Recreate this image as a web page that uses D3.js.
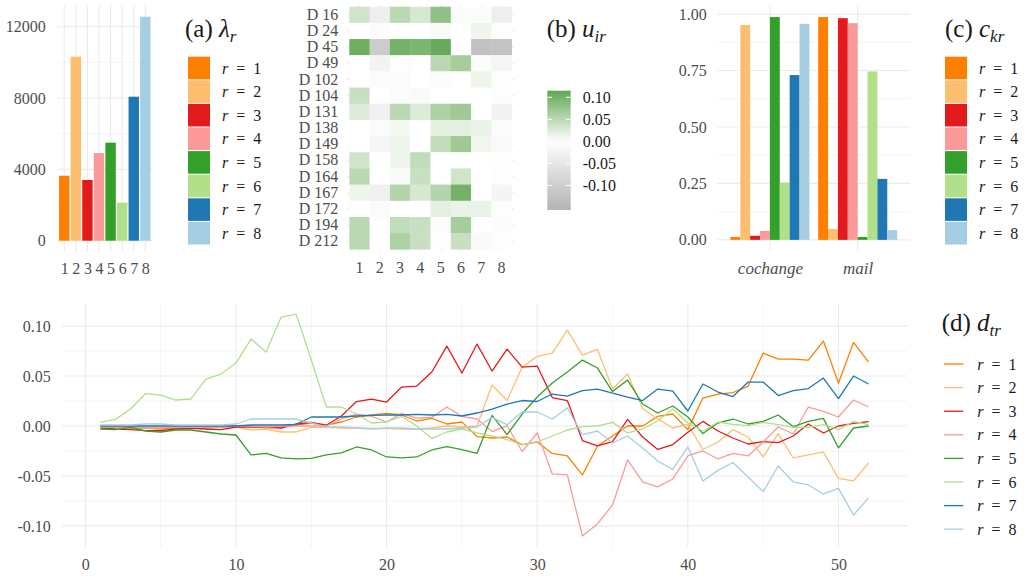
<!DOCTYPE html>
<html><head><meta charset="utf-8">
<script src="https://cdn.jsdelivr.net/npm/d3@7"></script>
<style>body{margin:0;background:#fff} text{font-family:"Liberation Serif","Times New Roman",serif}</style>
</head><body><svg id="c" width="1026" height="577" xmlns="http://www.w3.org/2000/svg"></svg>
<script>
// ---------- data ----------
const ranks = [1,2,3,4,5,6,7,8];
const colors = ["#ff7f00","#fdbf6f","#e31a1c","#fb9a99","#33a02c","#b2df8a","#1f78b4","#a6cee3"];
const lambda = [3645,10318,3404,4918,5496,2131,8075,12561];
const lambdaTicks = [0,4000,8000,12000];
const heatRows = ["D 16","D 24","D 45","D 49","D 102","D 104","D 131","D 138","D 149","D 158","D 164","D 167","D 172","D 194","D 212"];
const heatVals = [
  [0.035,-0.035,0.050,0.030,0.080,0.003,0.003,-0.035],
  [0.000,-0.006,0.000,0.000,0.005,0.000,0.012,-0.004],
  [0.105,-0.105,0.100,0.095,0.110,0.000,-0.128,-0.124],
  [0.000,-0.025,-0.004,0.000,0.050,0.065,0.003,-0.018],
  [0.000,-0.006,0.003,0.000,0.003,0.000,0.012,-0.004],
  [0.040,0.000,0.003,0.005,0.000,0.000,0.000,-0.004],
  [0.025,-0.030,0.050,0.025,0.060,0.070,0.000,-0.025],
  [0.000,-0.007,0.008,0.000,0.020,0.020,0.015,-0.006],
  [0.000,-0.018,0.012,0.000,0.045,0.070,0.010,-0.012],
  [0.035,-0.003,0.012,0.045,0.000,0.000,0.000,-0.003],
  [0.050,0.000,0.005,0.040,0.000,0.035,0.000,-0.004],
  [0.012,-0.030,0.055,0.030,0.055,0.100,0.000,-0.020],
  [-0.003,-0.008,0.000,0.000,0.020,0.015,0.015,-0.004],
  [0.050,0.000,0.045,0.040,-0.006,0.065,-0.003,-0.006],
  [0.050,0.000,0.060,0.040,-0.003,0.040,0.005,-0.004]
];
const heatLegendTicks = [0.10,0.05,0.00,-0.05,-0.10];
const channels = ["cochange","mail"];
const cochange = [0.013,0.952,0.018,0.040,0.987,0.254,0.730,0.957];
const mail     = [0.987,0.048,0.982,0.960,0.013,0.746,0.270,0.043];
const shareTicks = [0,0.25,0.5,0.75,1];
const weeks = d3.range(1,53);
const d1 = [-0.001,-0.001,-0.002,-0.002,-0.003,-0.002,-0.002,-0.002,-0.001,0.000,0.000,-0.002,-0.001,
  0.001,0.003,0.001,0.004,0.009,0.011,0.0126,0.011,0.005,0.0076,0.002,0.004,-0.0106,-0.012,-0.011,-0.0186,
  -0.016,-0.0275,-0.030,-0.049,-0.020,-0.010,0.000,0.000,0.0096,0.012,-0.0036,0.028,
  0.032,0.0335,0.040,0.073,0.067,0.067,0.066,0.085,0.043,0.0836,0.064];
const d2 = [0.000,0.000,0.000,-0.001,-0.001,-0.001,-0.001,-0.001,-0.001,-0.001,-0.004,-0.003,-0.006,
  -0.006,-0.0013,-0.0013,-0.002,-0.002,-0.0023,-0.0027,-0.003,-0.003,-0.002,0.000,-0.001,0.000,0.041,0.0255,0.059,
  0.0697,0.073,0.096,0.071,0.0766,0.037,0.052,0.0176,0.007,-0.002,0.0017,-0.0235,
  -0.016,-0.0036,-0.011,-0.031,-0.0076,-0.032,-0.029,-0.026,-0.0524,-0.055,-0.037];
const d3v = [-0.002,-0.003,-0.0036,-0.0046,-0.0046,-0.003,-0.0023,-0.003,-0.0036,-0.001,-0.001,-0.001,-0.002,
  0.002,0.0036,0.0007,0.010,0.0245,0.027,0.024,0.039,0.040,0.054,0.080,0.053,0.082,0.055,0.077,0.059,
  0.060,0.0285,0.0255,-0.0146,-0.020,-0.0156,0.0066,-0.011,-0.0235,-0.0186,-0.0063,0.0046,
  -0.005,-0.012,-0.018,-0.0156,-0.0166,-0.010,0.002,-0.007,0.000,0.0027,0.0043];
const d4 = [-0.001,-0.001,-0.001,-0.002,-0.002,-0.001,-0.001,-0.001,-0.001,0.000,0.000,-0.001,0.000,
  0.000,0.000,0.000,0.007,0.012,0.0096,0.004,0.0126,0.008,0.0086,0.019,0.0096,0.007,-0.0056,0.0003,-0.0255,
  -0.007,-0.048,-0.049,-0.110,-0.098,-0.079,-0.034,-0.056,-0.061,-0.053,-0.030,-0.025,
  -0.033,-0.0275,-0.030,-0.016,-0.001,-0.008,0.019,0.0146,0.009,0.026,0.019];
const d5 = [-0.003,-0.0036,-0.0013,-0.005,-0.006,-0.004,-0.004,-0.006,-0.008,-0.009,-0.029,-0.0275,-0.032,
  -0.033,-0.0325,-0.029,-0.027,-0.021,-0.024,-0.031,-0.032,-0.031,-0.024,-0.0206,-0.0236,-0.0275,0.0106,-0.0086,0.012,
  0.029,0.043,0.054,0.066,0.058,0.0345,0.046,0.022,0.013,0.020,0.009,-0.0076,
  0.003,0.007,0.002,0.0046,0.011,-0.0007,0.0046,0.0076,-0.022,-0.002,0.000];
const d6 = [0.0036,0.0066,0.017,0.0325,0.031,0.026,0.027,0.047,0.052,0.063,0.087,0.074,0.109,
  0.112,0.066,0.019,0.019,0.012,0.003,0.004,0.0096,0.000,-0.0126,-0.006,-0.003,-0.007,-0.010,-0.0136,-0.019,
  -0.016,-0.010,-0.004,-0.0007,0.000,0.0036,-0.007,-0.003,0.005,0.017,0.003,-0.005,
  0.004,0.0017,0.0003,0.0036,0.0013,-0.0013,-0.0013,0.0013,-0.0036,0.0046,0.0013];
const d7 = [0.000,0.000,0.000,0.000,0.000,0.000,0.000,0.000,0.000,0.000,0.001,0.001,0.001,
  0.0017,0.009,0.009,0.009,0.010,0.0106,0.011,0.011,0.0116,0.011,0.0116,0.010,0.013,0.017,0.022,0.0255,
  0.0245,0.032,0.030,0.0355,0.037,0.033,0.029,0.0255,0.037,0.035,0.015,0.042,
  0.034,0.0295,0.044,0.044,0.0305,0.0355,0.0375,0.048,0.0275,0.050,0.042];
const d8 = [0.001,0.001,0.001,0.002,0.002,0.001,0.001,0.001,0.001,0.002,0.007,0.007,0.007,
  0.007,0.003,-0.001,-0.001,-0.002,-0.003,-0.002,-0.002,-0.003,-0.003,-0.003,-0.002,-0.001,0.0086,0.0013,0.014,
  0.014,0.007,0.018,-0.0086,-0.005,-0.017,-0.010,-0.022,-0.035,-0.0435,-0.021,-0.055,
  -0.0444,-0.0365,-0.051,-0.0657,-0.040,-0.056,-0.059,-0.068,-0.0624,-0.089,-0.072];
const dTicksX = [0,10,20,30,40,50];
const dTicksY = [-0.10,-0.05,0,0.05,0.10];

// ---------- helpers ----------
const svg = d3.select("#c");
svg.append("rect").attr("width",1026).attr("height",577).attr("fill","#fff");
const GRID = "#ebebeb", TICK = "#4d4d4d", FS = 16;
const fmt2 = v => (v<0?"-":"") + d3.format(".2f")(Math.abs(v));

function hGrid(g, y, vals, x0, x1, w){
  g.selectAll(null).data(vals).join("line")
   .attr("x1",x0).attr("x2",x1).attr("y1",d=>y(d)).attr("y2",d=>y(d))
   .attr("stroke",GRID).attr("stroke-width",w);
}
function vGrid(g, xf, vals, y0, y1, w){
  g.selectAll(null).data(vals).join("line")
   .attr("y1",y0).attr("y2",y1).attr("x1",d=>xf(d)).attr("x2",d=>xf(d))
   .attr("stroke",GRID).attr("stroke-width",w);
}
function styleAxis(g){
  g.attr("font-family",null).attr("font-size",null);
  g.select(".domain").remove();
  g.selectAll(".tick line").remove();
  g.selectAll("text").attr("fill",TICK).attr("font-size",FS);
}
function title(x, y, prefix, sym, sub){
  const t = svg.append("text").attr("x",x).attr("y",y).attr("font-size",25).attr("fill","#1a1a1a");
  t.append("tspan").text(prefix+" ");
  t.append("tspan").attr("font-style","italic").text(sym);
  t.append("tspan").attr("font-style","italic").attr("font-size",17).attr("dy",5).text(sub);
}
function keyLabel(x, y, r){
  const t = svg.append("text").attr("x",x).attr("y",y).attr("dy","0.35em").attr("font-size",FS).attr("fill","#1a1a1a");
  t.append("tspan").attr("font-style","italic").text("r");
  t.append("tspan").text("\u2002=\u2002"+r);
}
function rectKeys(x, y0, step){
  ranks.forEach((r,i)=>{
    svg.append("rect").attr("x",x).attr("y",y0+i*step).attr("width",22).attr("height",step-1)
      .attr("fill",colors[i]);
    keyLabel(x+34, y0+i*step+step/2-0.5, r);
  });
}

// ---------- panel (a) ----------
{
  const g = svg.append("g");
  const x = d3.scalePoint().domain(ranks).range([57.3,152.3]).padding(0.6);
  const ext = [0, d3.max(lambda)], pad = (ext[1]-ext[0])*0.05;
  const y = d3.scaleLinear().domain([ext[0]-pad, ext[1]+pad]).range([251.9,5.5]);
  hGrid(g, y, [2000,6000,10000], 57.3, 152.3, 0.55);
  hGrid(g, y, lambdaTicks, 57.3, 152.3, 1.1);
  vGrid(g, x, ranks, 5.5, 251.9, 1.1);
  const bw = x.step()*0.9;
  g.selectAll(null).data(ranks).join("rect")
    .attr("x",d=>x(d)-bw/2).attr("width",bw)
    .attr("y",(d,i)=>y(lambda[i])).attr("height",(d,i)=>y(0)-y(lambda[i]))
    .attr("fill",(d,i)=>colors[i]);
  const ay = g.append("g").attr("transform","translate(57.3,0)")
    .call(d3.axisLeft(y).tickValues(lambdaTicks).tickFormat(d3.format("d")).tickSize(0).tickPadding(11.6));
  styleAxis(ay);
  const ax = g.append("g").attr("transform","translate(0,251.9)")
    .call(d3.axisBottom(x).tickSize(0).tickPadding(11));
  styleAxis(ax);
  title(185, 37, "(a)", "\u03bb", "r");
  rectKeys(188, 56.7, 23.6);
}

// ---------- panel (b) ----------
{
  const g = svg.append("g");
  const x = d3.scaleBand().domain(ranks).range([349.3,511.7]);
  const y = d3.scaleBand().domain(heatRows).range([6.7,249.3]);
  const px0 = 349.3 - x.step()*0.1, px1 = 511.7 + x.step()*0.1;
  const py0 = 6.7 - y.step()*0.1, py1 = 249.3 + y.step()*0.1;
  hGrid(g, d=>y(d)+y.bandwidth()/2, heatRows, px0, px1, 1.1);
  vGrid(g, d=>x(d)+x.bandwidth()/2, ranks, py0, py1, 1.1);
  const col = d3.scaleLinear().domain([-0.156,0,0.115]).range(["#b4b4b4","#ffffff","#5fa653"]).interpolate(d3.interpolateLab);
  heatRows.forEach((row,ri)=>{
    g.selectAll(null).data(heatVals[ri]).join("rect")
      .attr("x",(d,ci)=>x(ranks[ci])).attr("y",y(row))
      .attr("width",x.bandwidth()+0.3).attr("height",y.bandwidth()+0.3)
      .attr("fill",d=>col(d));
  });
  const ay = g.append("g").attr("transform",`translate(${px0},0)`)
    .call(d3.axisLeft(y).tickSize(0).tickPadding(9));
  styleAxis(ay);
  const ax = g.append("g").attr("transform",`translate(0,${py1})`)
    .call(d3.axisBottom(x).tickSize(0).tickPadding(11));
  styleAxis(ax);
  title(546.7, 37, "(b)", "u", "ir");
  // colourbar
  const ly = d3.scaleLinear().domain([-0.156,0.115]).range([210,90.7]);
  const defs = svg.append("defs");
  const lg = defs.append("linearGradient").attr("id","cb").attr("x1",0).attr("x2",0).attr("y1",1).attr("y2",0);
  d3.range(0,1.0001,0.05).forEach(t=>{
    lg.append("stop").attr("offset",t).attr("stop-color",col(-0.156+t*(0.271)));
  });
  svg.append("rect").attr("x",547.3).attr("y",90.7).attr("width",23.4).attr("height",119.3).attr("fill","url(#cb)");
  heatLegendTicks.forEach(v=>{
    svg.append("line").attr("x1",547.3).attr("x2",552).attr("y1",ly(v)).attr("y2",ly(v)).attr("stroke","#fff").attr("stroke-width",1);
    svg.append("line").attr("x1",566).attr("x2",570.7).attr("y1",ly(v)).attr("y2",ly(v)).attr("stroke","#fff").attr("stroke-width",1);
  });
  const la = svg.append("g").attr("transform","translate(570.7,0)")
    .call(d3.axisRight(ly).tickValues(heatLegendTicks).tickFormat(fmt2).tickSize(0).tickPadding(12));
  styleAxis(la);
  la.selectAll("text").attr("fill","#1a1a1a");
}

// ---------- panel (c) ----------
{
  const g = svg.append("g");
  const x0 = d3.scalePoint().domain(channels).range([717.3,910.3]).padding(0.6);
  const st = x0.step();
  const x1 = d3.scaleBand().domain(ranks).range([-0.45*st, 0.45*st]);
  const all = cochange.concat(mail);
  const ext = [0, d3.max(all)], pad = (ext[1]-ext[0])*0.05;
  const y = d3.scaleLinear().domain([ext[0]-pad, ext[1]+pad]).range([251,5.9]);
  hGrid(g, y, [0.125,0.375,0.625,0.875], 717.3, 910.3, 0.55);
  hGrid(g, y, shareTicks, 717.3, 910.3, 1.1);
  vGrid(g, x0, channels, 5.9, 251, 1.1);
  const vals = {cochange, mail};
  channels.forEach(ch=>{
    g.selectAll(null).data(vals[ch]).join("rect")
      .attr("x",(d,i)=>x0(ch)+x1(ranks[i])).attr("width",x1.bandwidth())
      .attr("y",d=>y(d)).attr("height",d=>y(0)-y(d))
      .attr("fill",(d,i)=>colors[i]);
  });
  const ay = g.append("g").attr("transform","translate(717.3,0)")
    .call(d3.axisLeft(y).tickValues(shareTicks).tickFormat(d3.format(".2f")).tickSize(0).tickPadding(10.6));
  styleAxis(ay);
  const ax = g.append("g").attr("transform","translate(0,251)")
    .call(d3.axisBottom(x0).tickSize(0).tickPadding(11));
  styleAxis(ax);
  ax.selectAll("text").attr("font-style","italic").attr("font-size",17);
  title(945, 37, "(c)", "c", "kr");
  rectKeys(945, 56.7, 23.6);
}

// ---------- panel (d) ----------
{
  const g = svg.append("g");
  const series = [d1,d2,d3v,d4,d5,d6,d7,d8];
  const xe = d3.extent(weeks), xp = (xe[1]-xe[0])*0.05;
  const x = d3.scaleLinear().domain([xe[0]-xp, xe[1]+xp]).range([62,907]);
  const ye = d3.extent(series.flat()), yp = (ye[1]-ye[0])*0.05;
  const y = d3.scaleLinear().domain([ye[0]-yp, ye[1]+yp]).range([547,303]);
  hGrid(g, y, [-0.075,-0.025,0.025,0.075], 62, 907, 0.55);
  hGrid(g, y, dTicksY, 62, 907, 1.1);
  vGrid(g, x, [5,15,25,35,45], 303, 547, 0.55);
  vGrid(g, x, dTicksX, 303, 547, 1.1);
  const line = d3.line().x((d,i)=>x(weeks[i])).y(d=>y(d));
  series.forEach((s,i)=>{
    g.append("path").attr("d",line(s)).attr("fill","none").attr("stroke",colors[i])
      .attr("stroke-width",1.3).attr("stroke-linejoin","round");
  });
  const ay = g.append("g").attr("transform","translate(62,0)")
    .call(d3.axisLeft(y).tickValues(dTicksY).tickFormat(fmt2).tickSize(0).tickPadding(11.3));
  styleAxis(ay);
  const ax = g.append("g").attr("transform","translate(0,547)")
    .call(d3.axisBottom(x).tickValues(dTicksX).tickFormat(d3.format("d")).tickSize(0).tickPadding(12));
  styleAxis(ax);
  title(941.7, 331, "(d)", "d", "tr");
  ranks.forEach((r,i)=>{
    const yy = 364 + i*23.6;
    svg.append("line").attr("x1",944).attr("x2",963.3).attr("y1",yy).attr("y2",yy)
      .attr("stroke",colors[i]).attr("stroke-width",1.3);
    keyLabel(977.3, yy, r);
  });
}
</script></body></html>
